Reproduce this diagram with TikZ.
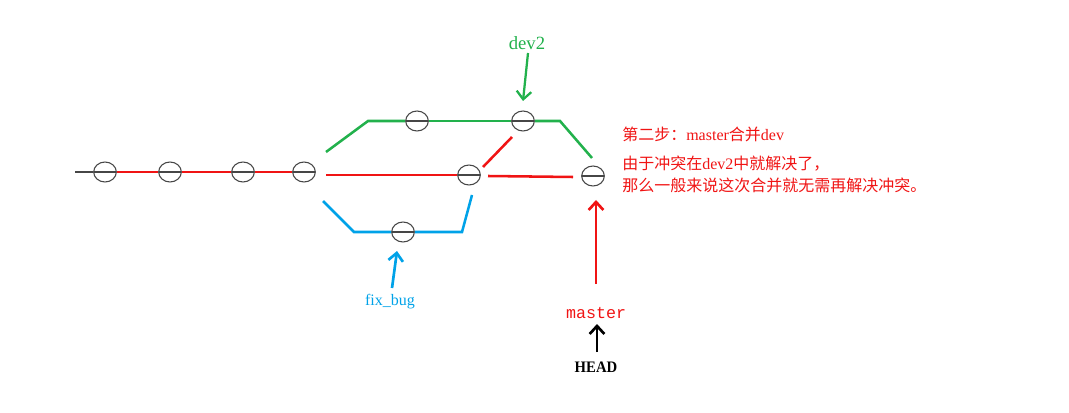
\documentclass[tikz,border=0pt]{standalone}
\usepackage{fontspec}
\setmainfont{Liberation Serif}
\setmonofont{Liberation Mono}
\newfontfamily\cjk{Noto Sans CJK SC}
\usetikzlibrary{shapes.geometric,arrows.meta}
\definecolor{gred}{RGB}{240,20,20}
\definecolor{ggreen}{RGB}{34,177,76}
\definecolor{gblue}{RGB}{0,162,232}
\definecolor{ggray}{RGB}{70,70,70}
\begin{document}
\begin{tikzpicture}[x=0.75pt,y=-0.75pt,
  commit/.style={ellipse,draw=ggray,line width=0.8pt,minimum width=17pt,minimum height=15pt,inner sep=0pt,
    path picture={\draw[ggray,line width=0.9pt] (path picture bounding box.west) -- (path picture bounding box.east);}},
  redline/.style={gred,line width=1.9pt},
  greenline/.style={ggreen,line width=1.9pt},
  blueline/.style={gblue,line width=1.9pt},
  ptr/.style={line width=2pt,-{Straight Barb[length=6pt,width=11pt]}},
  cjktext/.style={gred,font=\fontsize{12}{14}\selectfont,anchor=base west,inner sep=0pt}
]
\useasboundingbox (0,0) rectangle (1069,413);
% commits
\node[commit] (c1) at (105,172) {};
\node[commit] (c2) at (170,172) {};
\node[commit] (c3) at (243,172) {};
\node[commit] (c4) at (304,172) {};
\node[commit] (g1) at (417,121) {};
\node[commit] (d2) at (523,121) {};
\node[commit] (m1) at (469,175) {};
\node[commit] (mg) at (593,176) {};
\node[commit] (f1) at (403,232) {};
% coordinates
\coordinate (l0) at (75,172);
\coordinate (gs) at (326,152);
\coordinate (gb1) at (368,121);
\coordinate (gb2) at (560,121);
\coordinate (ge) at (592,158);
\coordinate (rs) at (326,175);
\coordinate (r2s) at (488,176);
\coordinate (r2e) at (573,177);
\coordinate (rds) at (483,167);
\coordinate (rde) at (512,137);
\coordinate (bs) at (323,201);
\coordinate (bb1) at (354,232);
\coordinate (bb2) at (462,232);
\coordinate (be) at (472,195);
% lines
\draw[ggray,line width=0.9pt] (l0) -- (c1.west);
\draw[redline] (c1.east) -- (c2.west);
\draw[redline] (c2.east) -- (c3.west);
\draw[redline] (c3.east) -- (c4.west);
\draw[greenline] (gs) -- (gb1) -- (g1.west);
\draw[greenline] (g1.east) -- (d2.west);
\draw[greenline] (d2.east) -- (gb2) -- (ge);
\draw[redline] (rs) -- (m1.west);
\draw[redline] (r2s) -- (r2e);
\draw[redline] (rds) -- (rde);
\draw[blueline] (bs) -- (bb1) -- (f1.west);
\draw[blueline] (f1.east) -- (bb2) -- (be);
% labels
\node[ggreen,font=\fontsize{14}{16}\selectfont] (ldev) at (527,43) {dev2};
\coordinate (ldevs) at (528,53);
\coordinate (ldeve) at (523,101);
\draw[ptr,ggreen,line width=1.7pt] (ldevs) -- (ldeve);
\node[gblue,font=\fontsize{12}{14}\selectfont] (lfix) at (390,302) {fix\_bug};
\coordinate (lfixs) at (392,288);
\coordinate (lfixe) at (397,251);
\draw[ptr,gblue] (lfixs) -- (lfixe);
\node[gred,font=\ttfamily\fontsize{12.5}{14}\selectfont] (lmaster) at (596,313) {master};
\coordinate (lms) at (596,284);
\coordinate (lme) at (596,200);
\draw[ptr,gred] (lms) -- (lme);
\node[black,font=\bfseries\fontsize{12}{14}\selectfont,xscale=0.92] (lhead) at (596,367) {HEAD};
\coordinate (lhs) at (597,352);
\coordinate (lhe) at (597,324);
\draw[ptr,black] (lhs) -- (lhe);
% text
\node[cjktext] (t1) at (622,141) {{\cjk 第二步：}master{\cjk 合并}dev};
\node[cjktext] (t2) at (622,170) {{\cjk 由于冲突在}dev2{\cjk 中就解决了，}};
\node[cjktext] (t3) at (622,192) {{\cjk 那么一般来说这次合并就无需再解决冲突。}};
\end{tikzpicture}
\end{document}
